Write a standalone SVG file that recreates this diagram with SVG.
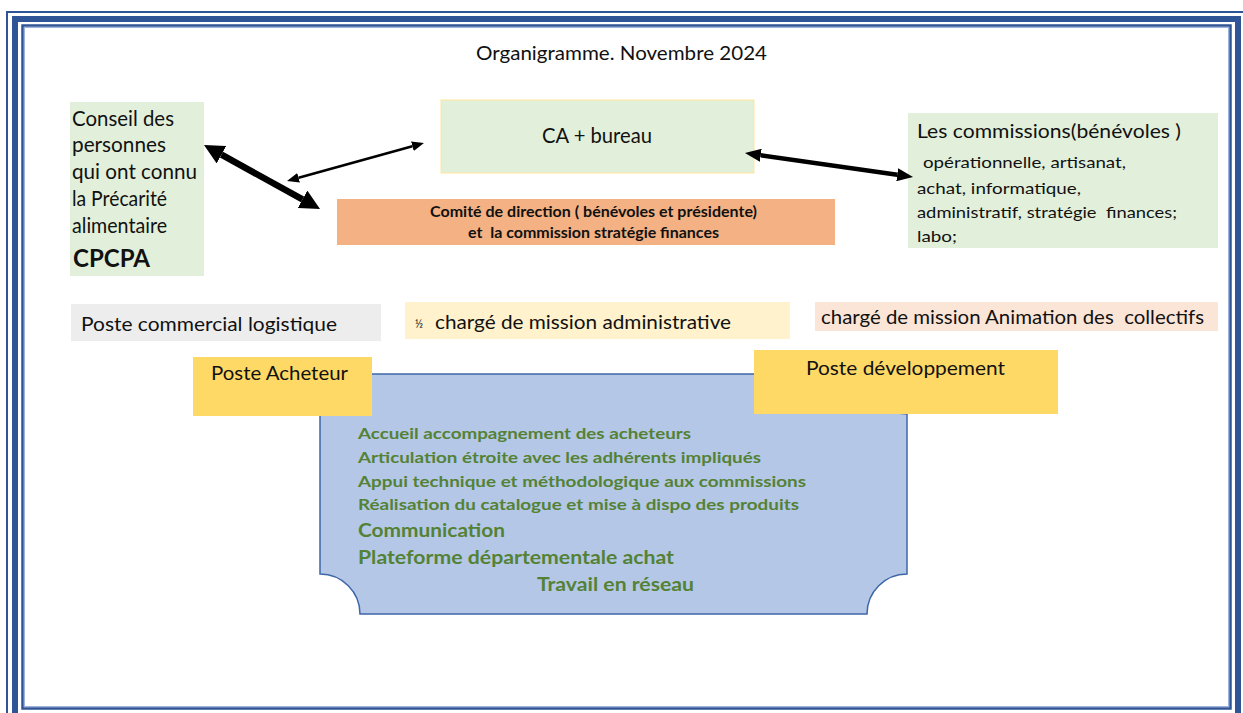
<svg xmlns="http://www.w3.org/2000/svg" width="1243" height="713" viewBox="0 0 1243 713">
<style>
  text { font-family: Lato, "Liberation Sans", sans-serif; fill: #111; }
  .frame { fill: none; stroke: #2F5597; }
  .green { fill: #E2EFDA; }
  .b { font-weight: bold; }
  .pre { white-space: pre; }
  .blue-t { font-family: Lato, "Liberation Sans", sans-serif; font-weight: bold; fill: #548235; }
  .conn { stroke: #000; fill: none; }
</style>
<defs>
  <marker id="headL" markerUnits="userSpaceOnUse" markerWidth="20" markerHeight="20" refX="0" refY="10" orient="auto-start-reverse" viewBox="0 0 20 20">
    <path d="M0,0 L20,10 L0,20 Z" fill="#000"/>
  </marker>
  <marker id="headM" markerUnits="userSpaceOnUse" markerWidth="16" markerHeight="13" refX="0" refY="6.5" orient="auto-start-reverse" viewBox="0 0 16 13">
    <path d="M0,0 L16,6.5 L0,13 Z" fill="#000"/>
  </marker>
  <marker id="headS" markerUnits="userSpaceOnUse" markerWidth="12" markerHeight="10" refX="0" refY="5" orient="auto-start-reverse" viewBox="0 0 12 10">
    <path d="M0,0 L12,5 L0,10 Z" fill="#000"/>
  </marker>
</defs>
<rect width="1243" height="713" fill="#fff"/>
<g id="frame">
  <path class="frame" stroke-width="2" d="M7,713 V12 H1243"/>
  <path class="frame" stroke-width="6" d="M15,713 V19 H1238 V713"/>
  <rect x="22.5" y="25.5" width="1208" height="683" class="frame" stroke-width="2.5"/>
  <rect x="24.5" y="27.5" width="1204" height="679" fill="none" stroke="#9DB3DD" stroke-width="1"/>
</g>
<text x="476" y="60" font-size="20" textLength="291" lengthAdjust="spacingAndGlyphs">Organigramme. Novembre 2024</text>

<g id="missions-plaque">
  <path d="M360,374 L867,374 A40,40 0 0 0 907,414 L907,574 A40,40 0 0 0 867,614 L360,614 A40,40 0 0 0 320,574 L320,414 A40,40 0 0 0 360,374 Z" fill="#B4C7E7" stroke="#3E67A8" stroke-width="1.5"/>
  <text class="blue-t" x="358" y="439" font-size="15.5" textLength="333" lengthAdjust="spacingAndGlyphs">Accueil accompagnement des acheteurs</text>
  <text class="blue-t" x="358" y="463" font-size="15.5" textLength="403" lengthAdjust="spacingAndGlyphs">Articulation étroite avec les adhérents impliqués</text>
  <text class="blue-t" x="358" y="487" font-size="15.5" textLength="448" lengthAdjust="spacingAndGlyphs">Appui technique et méthodologique aux commissions</text>
  <text class="blue-t" x="358" y="510" font-size="15.5" textLength="441" lengthAdjust="spacingAndGlyphs">Réalisation du catalogue et mise à dispo des produits</text>
  <text class="blue-t" x="358" y="537" font-size="18.5" textLength="147" lengthAdjust="spacingAndGlyphs">Communication</text>
  <text class="blue-t" x="358" y="564" font-size="18.5" textLength="316" lengthAdjust="spacingAndGlyphs">Plateforme départementale achat</text>
  <text class="blue-t" x="537" y="591" font-size="18.5" textLength="157" lengthAdjust="spacingAndGlyphs">Travail en réseau</text>
</g>

<g id="conseil">
  <rect x="70" y="102" width="134" height="174" class="green"/>
  <text x="72" y="125.5" font-size="20.5" textLength="102" lengthAdjust="spacingAndGlyphs">Conseil des</text>
  <text x="72" y="152" font-size="20.5" textLength="94" lengthAdjust="spacingAndGlyphs">personnes</text>
  <text x="72" y="179" font-size="20.5" textLength="125" lengthAdjust="spacingAndGlyphs">qui ont connu</text>
  <text x="72" y="205.5" font-size="20.5" textLength="95" lengthAdjust="spacingAndGlyphs">la Précarité</text>
  <text x="72" y="232.5" font-size="20.5" textLength="95" lengthAdjust="spacingAndGlyphs">alimentaire</text>
  <text x="73" y="266.5" font-size="25" class="b" textLength="77" lengthAdjust="spacingAndGlyphs">CPCPA</text>
</g>

<g id="ca-bureau">
  <rect x="441" y="100" width="313" height="73" class="green" stroke="#FFE699" stroke-width="1"/>
  <text x="542" y="143" font-size="20.5" textLength="110" lengthAdjust="spacingAndGlyphs">CA + bureau</text>
</g>

<g id="comite">
  <rect x="337" y="199" width="498" height="46" fill="#F4B183"/>
  <text x="430" y="217" font-size="14.5" class="b" textLength="327" lengthAdjust="spacingAndGlyphs">Comité de direction ( bénévoles et présidente)</text>
  <text x="468" y="238" font-size="14.5" class="b pre" xml:space="preserve" textLength="251" lengthAdjust="spacingAndGlyphs">et  la commission stratégie finances</text>
</g>

<g id="commissions">
  <rect x="908" y="113" width="310" height="135" class="green"/>
  <text x="917" y="138" font-size="19" textLength="264" lengthAdjust="spacingAndGlyphs">Les commissions(bénévoles )</text>
  <text x="923" y="168" font-size="16" textLength="203" lengthAdjust="spacingAndGlyphs">opérationnelle, artisanat,</text>
  <text x="917" y="194" font-size="16" textLength="164" lengthAdjust="spacingAndGlyphs">achat, informatique,</text>
  <text x="917" y="218" font-size="16" class="pre" xml:space="preserve" textLength="260" lengthAdjust="spacingAndGlyphs">administratif, stratégie  finances;</text>
  <text x="917" y="242" font-size="16" textLength="40" lengthAdjust="spacingAndGlyphs">labo;</text>
</g>

<g id="poste-commercial">
  <rect x="71" y="304" width="310" height="37" fill="#EDEDED"/>
  <text x="81" y="331" font-size="20" textLength="256" lengthAdjust="spacingAndGlyphs">Poste commercial logistique</text>
</g>

<g id="charge-admin">
  <rect x="405" y="302" width="385" height="37" fill="#FFF2CC"/>
  <text x="415" y="328" font-size="11">½</text>
  <text x="435" y="329" font-size="20" textLength="296" lengthAdjust="spacingAndGlyphs">chargé de mission administrative</text>
</g>

<g id="charge-animation">
  <rect x="815" y="302" width="403" height="29" fill="#FBE5D6"/>
  <text x="821" y="324" font-size="20" class="pre" xml:space="preserve" textLength="383" lengthAdjust="spacingAndGlyphs">chargé de mission Animation des  collectifs</text>
</g>

<g id="poste-acheteur">
  <rect x="193" y="357" width="179" height="59" fill="#FFD966"/>
  <text x="211" y="380" font-size="20" textLength="137" lengthAdjust="spacingAndGlyphs">Poste Acheteur</text>
</g>

<g id="poste-developpement">
  <rect x="754" y="350" width="304" height="64" fill="#FFD966"/>
  <text x="806" y="375" font-size="20" textLength="199" lengthAdjust="spacingAndGlyphs">Poste développement</text>
</g>

<g id="connectors">
  <line class="conn" x1="221.5" y1="154.7" x2="302.5" y2="199.3" stroke-width="6.5" marker-start="url(#headL)" marker-end="url(#headL)"/>
  <line class="conn" x1="298.6" y1="177.8" x2="412.4" y2="146.2" stroke-width="2.5" marker-start="url(#headS)" marker-end="url(#headS)"/>
  <line class="conn" x1="760.8" y1="155.3" x2="897.2" y2="174.7" stroke-width="4.5" marker-start="url(#headM)" marker-end="url(#headM)"/>
</g>
</svg>
